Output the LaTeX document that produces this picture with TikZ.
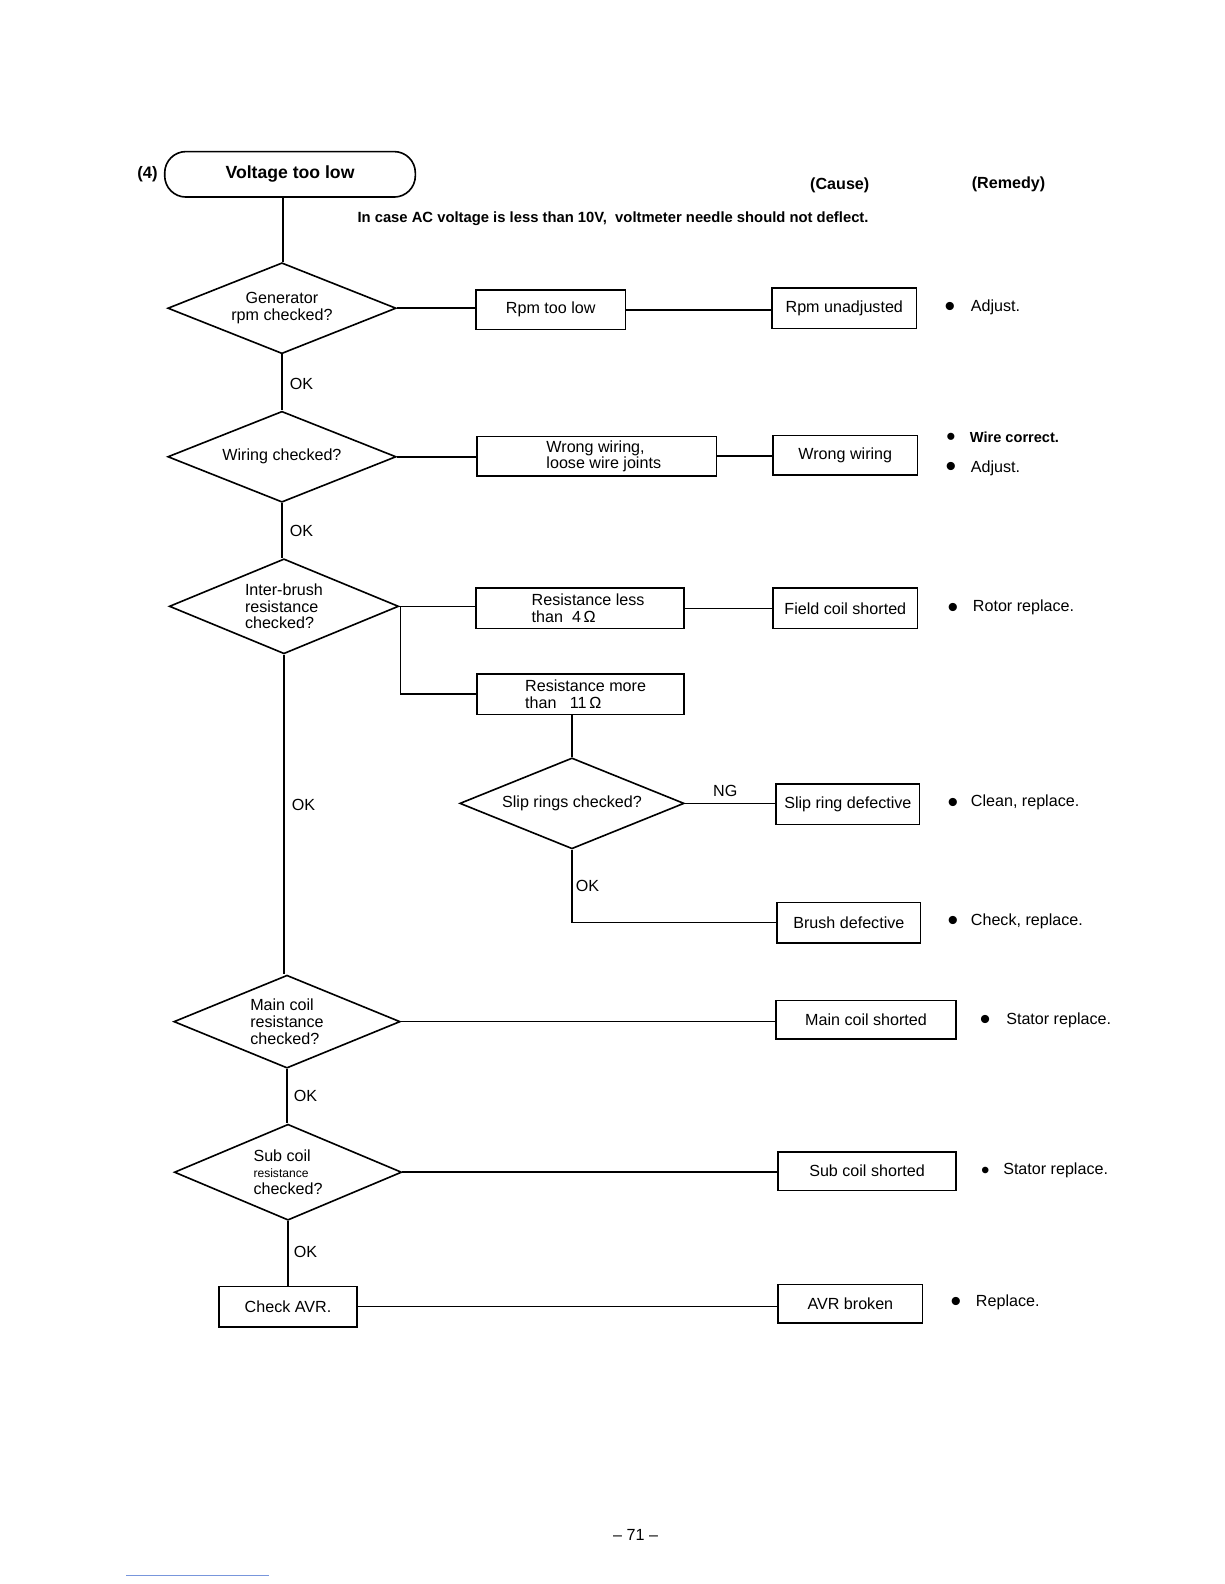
\documentclass[tikz,border=0pt]{standalone}
\usepackage{fontspec}
\setmainfont{Liberation Sans}
\usetikzlibrary{shapes.geometric}
\newcommand\lblfont{\fontsize{16}{16.5}\selectfont}
\begin{document}
\begin{tikzpicture}[x=1bp,y=-1bp, line width=1.6bp,
  box/.style={draw, font=\lblfont, align=center, inner sep=1bp},
  dec/.style={draw, diamond, aspect=2.5, font=\lblfont, align=center, inner sep=0pt},
  lab/.style={font=\lblfont, anchor=west, inner sep=0pt},
  bul/.style={font=\fontsize{30}{30}\selectfont, inner sep=0pt},
  rem/.style={font=\lblfont, anchor=west, inner sep=0pt},
  head/.style={font=\bfseries\fontsize{16}{18}\selectfont, inner sep=0pt}]
\useasboundingbox (0,0) rectangle (1211.3,1567.5);

% title
\node[head, font=\bfseries\fontsize{16.5}{18}\selectfont] (num) at (146,172) {(4)};
\node[draw, rounded corners=21bp, minimum width=248bp, minimum height=45bp,
      font=\bfseries\fontsize{17.5}{20}\selectfont] (title) at (287,172.5) {Voltage too low};
\node[head] (cause) at (831,183) {(Cause)};
\node[head] (remedy) at (998,182) {(Remedy)};
\node[font=\bfseries\fontsize{14.7}{16}\selectfont, anchor=west, inner sep=0pt] (note) at (353,216)
  {In case AC voltage is less than 10V, \ voltmeter needle should not deflect.};

% decisions
\node[dec, minimum width=226bp, minimum height=90bp] (d1) at (279,305) {Generator\\rpm checked?};
\node[dec, minimum width=226bp, minimum height=90bp] (d2) at (279,452) {Wiring checked?};
\node[dec, minimum width=227bp, minimum height=94bp, align=left] (d3) at (281,600) {Inter-brush\\resistance\\checked?};
\node[dec, minimum width=222bp, minimum height=90bp] (d4) at (566,795) {Slip rings checked?};
\node[dec, minimum width=224bp, minimum height=92bp, align=left] (d5) at (284,1011) {Main coil\\resistance\\checked?};
\node[dec, minimum width=225bp, minimum height=95bp, align=left] (d6) at (285,1160)
  {Sub coil\\{\fontsize{12}{13}\selectfont resistance}\\checked?};

% boxes
\node[box, minimum width=148bp, minimum height=39bp] (blow) at (545,306.5) {Rpm too low};
\node[box, minimum width=237bp, minimum height=39bp, align=left] (bwire) at (590.5,451.5)
  {\hspace*{14bp}Wrong wiring,\\\hspace*{14bp}loose wire joints};
\node[box, minimum width=206bp, minimum height=40bp, align=left] (bless) at (574,602)
  {\hspace*{16bp}Resistance less\\\hspace*{16bp}than \ 4\,Ω};
\node[box, minimum width=205bp, minimum height=40bp, align=left] (bmore) at (574.5,687)
  {\hspace*{10bp}Resistance more\\\hspace*{10bp}than \ \ 11\,Ω};
\node[box, minimum width=136bp, minimum height=40bp] (bavr) at (285,1293) {Check AVR.};

% causes
\node[box, minimum width=143bp, minimum height=40bp] (crpm) at (835.5,305) {Rpm unadjusted};
\node[box, minimum width=143bp, minimum height=39bp] (cwire) at (836.5,450.5) {Wrong wiring};
\node[box, minimum width=143bp, minimum height=40bp] (cfield) at (836.5,602) {Field coil shorted};
\node[box, minimum width=142bp, minimum height=40bp] (cslip) at (839,796) {Slip ring defective};
\node[box, minimum width=142bp, minimum height=40bp] (cbrush) at (840,913) {Brush defective};
\node[box, minimum width=178bp, minimum height=38bp] (cmain) at (857,1009) {Main coil shorted};
\node[box, minimum width=176bp, minimum height=38bp] (csub) at (858,1159) {Sub coil shorted};
\node[box, minimum width=143bp, minimum height=38bp] (cavr) at (841.5,1290) {AVR broken};

% remedies
\node[bul] (r1b) at (940,306) {•};  \node[rem] (r1) at (960,304) {Adjust.};
\node[bul, font=\fontsize{26}{26}\selectfont] (r2b) at (941,435) {•};
\node[rem, font=\bfseries\fontsize{14.5}{15}\selectfont] (r2) at (959,433) {Wire correct.};
\node[bul] (r3b) at (941,465) {•};  \node[rem] (r3) at (960,463) {Adjust.};
\node[bul] (r4b) at (943,604) {•};  \node[rem] (r4) at (962,601) {Rotor replace.};
\node[bul] (r5b) at (943,797) {•};  \node[rem] (r5) at (960,794) {Clean, replace.};
\node[bul] (r6b) at (943,914) {•};  \node[rem] (r6) at (960,912) {Check, replace.};
\node[bul] (r7b) at (975,1012) {•}; \node[rem] (r7) at (995,1010) {Stator replace.};
\node[bul, font=\fontsize{24}{24}\selectfont] (r8b) at (975,1161) {•}; \node[rem] (r8) at (992,1158) {Stator replace.};
\node[bul] (r9b) at (946,1291) {•}; \node[rem] (r9) at (965,1289) {Replace.};

% labels
\node[lab] (ok1) at (286,380) {OK};
\node[lab] (ok2) at (286,525) {OK};
\node[lab] (ok3) at (288,797) {OK};
\node[lab] (ok4) at (569,877) {OK};
\node[lab] (ok5) at (290,1085) {OK};
\node[lab] (ok6) at (290,1239) {OK};
\node[lab] (ng) at (705,783) {NG};

% page number
\node[font=\fontsize{16}{18}\selectfont, inner sep=0pt] (page) at (629,1519) {– 71 –};

% connectors
\coordinate (t0) at (280,195);
\draw (t0) -- (t0 |- d1.north);
\draw (d1.south) -- (d1.south |- d2.north);
\draw (d2.south) -- (d2.south |- d3.north);
\draw (d3.south) -- (d3.south |- d5.north);
\draw (d5.south) -- (d5.south |- d6.north);
\draw (d6.south) -- (d6.south |- bavr.north);

\draw (d1.east) -- (d1.east -| blow.west);
\draw (blow.east) -- (blow.east -| crpm.west);
\draw (d2.east) -- (d2.east -| bwire.west);
\draw (bwire.east) -- (bwire.east -| cwire.west);
\draw (d3.east) -- (d3.east -| bless.west);
\draw (bless.east) -- (bless.east -| cfield.west);
\coordinate (br) at ([xshift=1bp]d3.east);
\draw (br) |- (bmore.west);
\draw (d4.north |- bmore.south) -- (d4.north);
\draw (d4.east) -- (d4.east -| cslip.west);
\draw (d4.south) |- (cbrush.west);
\draw (d5.east) -- (d5.east -| cmain.west);
\draw (d6.east) -- (d6.east -| csub.west);
\draw (bavr.east) -- (bavr.east -| cavr.west);

% scan mark
\coordinate (m1) at (125,1559);
\coordinate (m2) at (266,1559);
\draw[line width=1bp, color={rgb,255:red,120;green,150;blue,220}] (m1) -- (m2);
\end{tikzpicture}
\end{document}
